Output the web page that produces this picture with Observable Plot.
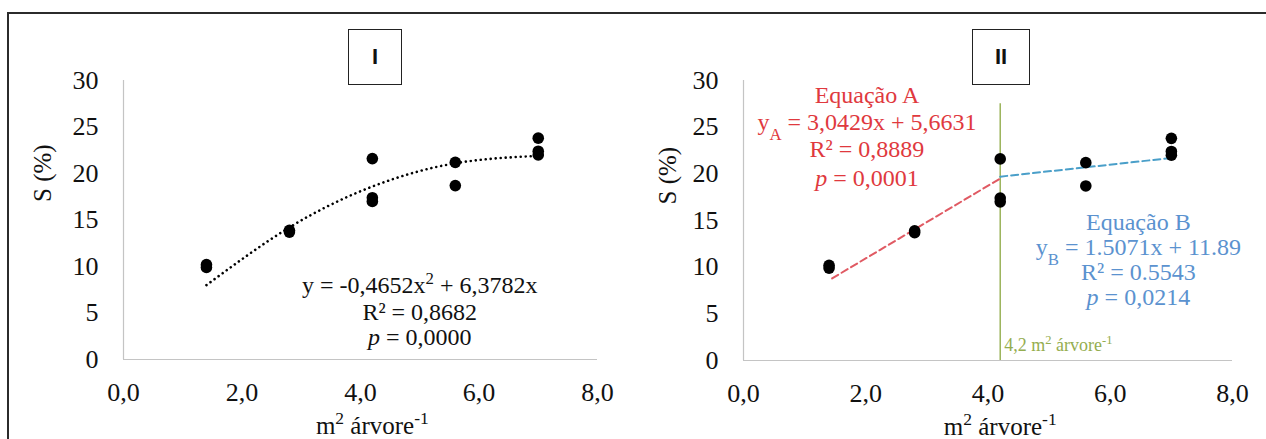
<!DOCTYPE html>
<html><head><meta charset="utf-8">
<script src="https://cdn.jsdelivr.net/npm/d3@7"></script>
<script src="https://cdn.jsdelivr.net/npm/@observablehq/plot@0.6"></script>
<style>
html,body{margin:0;padding:0;background:#fff}
#wrap{position:relative;width:1266px;height:439px;overflow:hidden;background:#fff}
#frame{position:absolute;left:7px;top:12px;width:1300px;height:500px;border-top:2.5px solid #2b2b2b;border-left:2.5px solid #2b2b2b}
.panel{position:absolute;top:0}
.box{position:absolute;border:1.5px solid #222;font-family:"Liberation Sans",Arial,sans-serif;font-weight:bold;font-size:22px;color:#111;display:flex;align-items:center;justify-content:center;box-sizing:border-box;background:#fff}
</style></head><body>
<div id="wrap"><div id="frame"></div></div>
<script>
// ---- data ----
const spacing  = [1.4, 1.4, 2.8, 2.8, 4.2, 4.2, 4.2, 5.6, 5.6, 7.0, 7.0, 7.0];   // m² árvore⁻¹
const sPercent = [9.9, 10.2, 13.7, 13.9, 21.6, 17.0, 17.4, 21.2, 18.7, 23.8, 22.0, 22.4]; // S (%)
const trendX = [1.4, 2.8, 4.2, 5.6, 7.0];          // quadratic trend (panel I)
const trendY = [8.0, 14.2, 18.6, 21.1, 21.9];
const segAx = [1.45, 4.2], segAy = [8.8, 19.5];     // Equação A segment
const segBx = [4.2, 7.0],  segBy = [19.7, 21.7];    // Equação B segment
const breakX = [4.2], breakTop = 27.5;
const xTicks = [0, 2, 4, 6, 8];
const yTicks = [0, 5, 10, 15, 20, 25, 30];
const panelTitles = ["I", "II"];
const xTitle = "m^{2} árvore^{-1}";
const yTitle = "S (%)";
const eqI = ["y = -0,4652x^{2} + 6,3782x", "R² = 0,8682", "*p* = 0,0000"];
const eqA = ["Equação A", "y_{A} = 3,0429x + 5,6631", "R² = 0,8889", "*p* = 0,0001"];
const eqB = ["Equação B", "y_{B} = 1.5071x + 11.89", "R² = 0.5543", "*p* = 0,0214"];
const breakLabel = ["4,2 m^{2} árvore^{-1}"];

// ---- layout / styles ----
const SERIF = "Liberation Serif";
const SERIF_CSS = "'Liberation Serif', 'Times New Roman', serif";
const fmt = d => d.toFixed(1).replace(".", ",");
const pts = spacing.map((x, i) => ({x, y: sPercent[i]}));
const trend = trendX.map((x, i) => ({x, y: trendY[i]}));
const segA = segAx.map((x, i) => ({x, y: segAy[i]}));
const segB = segBx.map((x, i) => ({x, y: segBy[i]}));
const eqIPos = {x: 5.0, y: [8.0, 5.1, 2.4]};
const eqAPos = {x: 2.02, y: [28.4, 25.5, 22.6, 19.5]};
const eqBPos = {x: 6.46, y: [14.8, 12.1, 9.4, 6.8]};

function rich(svg) {
  const NS = "http://www.w3.org/2000/svg";
  svg.querySelectorAll("text").forEach(el => {
    el.style.fontFamily = SERIF_CSS;
    el.style.fontVariant = "normal";
    const s = el.textContent;
    if (!/[\^_*]/.test(s) || el.children.length) return;
    el.textContent = "";
    const re = /\^\{([^}]*)\}|_\{([^}]*)\}|\*([^*]*)\*|([^\^_*]+)/g;
    let m;
    while ((m = re.exec(s))) {
      const t = document.createElementNS(NS, "tspan");
      if (m[1] !== undefined) { t.textContent = m[1]; t.setAttribute("baseline-shift", "super"); t.setAttribute("font-size", "70%"); }
      else if (m[2] !== undefined) { t.textContent = m[2]; t.setAttribute("baseline-shift", "sub"); t.setAttribute("font-size", "70%"); }
      else if (m[3] !== undefined) { t.textContent = m[3]; t.setAttribute("font-style", "italic"); }
      else t.textContent = m[4];
      el.appendChild(t);
    }
  });
}

function common(yDx, yDy) {
  return [
    Plot.ruleY([0], {x1: 0, x2: 8, stroke: "#c4c4c4", strokeWidth: 1.2}),
    Plot.ruleX([0], {y1: 0, y2: 30, stroke: "#c4c4c4", strokeWidth: 1.2}),
    Plot.axisX(xTicks, {tickSize: 0, tickPadding: 23, tickFormat: fmt, label: null, fontSize: 26, fontFamily: SERIF, fill: "#111"}),
    Plot.axisY(yTicks, {tickSize: 0, tickPadding: 25, label: null, fontSize: 26, fontFamily: SERIF, fill: "#111"}),
    Plot.text([xTitle], {x: 4.2, frameAnchor: "bottom", dy: 66, fontSize: 25, fontFamily: SERIF, lineAnchor: "middle", fill: "#111"}),
    Plot.text([yTitle], {frameAnchor: "left", rotate: -90, dx: yDx, dy: yDy, fontSize: 25, fontFamily: SERIF, fill: "#111"})
  ];
}

function make(left, width, ml, mr, mb, marks) {
  const p = Plot.plot({
    width, height: 439, marginLeft: ml, marginRight: mr, marginTop: 80, marginBottom: mb,
    style: {fontFamily: SERIF_CSS, fontSize: "24px", color: "#111", background: "transparent", overflow: "visible"},
    x: {domain: [0, 8], axis: null},
    y: {domain: [0, 30], axis: null},
    marks
  });
  rich(p);
  p.classList.add("panel");
  p.style.left = left + "px";
  document.getElementById("wrap").appendChild(p);
}

// Panel I
make(0, 640, 123, 43, 80, [
  ...common(-81, -18),
  Plot.line(trend, {x: "x", y: "y", curve: "natural", stroke: "#000", strokeWidth: 2.6, strokeDasharray: "0.01 5", strokeLinecap: "round"}),
  Plot.dot(pts, {x: "x", y: "y", r: 5.8, fill: "#000"}),
  Plot.text(eqI, {x: () => eqIPos.x, y: (d, i) => eqIPos.y[i], fontSize: 24, fontFamily: SERIF, fill: "#111"})
]);

// Panel II
make(640, 626, 103, 34, 79, [
  ...common(-76, -16),
  Plot.ruleX(breakX, {y1: 0, y2: breakTop, stroke: "#9bb35a", strokeWidth: 1.5}),
  Plot.text(breakLabel, {x: breakX[0], y: 1.6, dx: 4, textAnchor: "start", fontSize: 18, fontFamily: SERIF, fill: "#94ad4f"}),
  Plot.line(segA, {x: "x", y: "y", stroke: "#e05a63", strokeWidth: 2, strokeDasharray: "7 4"}),
  Plot.line(segB, {x: "x", y: "y", stroke: "#4a9fc9", strokeWidth: 2, strokeDasharray: "7 4"}),
  Plot.dot(pts, {x: "x", y: "y", r: 5.8, fill: "#000"}),
  Plot.text(eqA, {x: () => eqAPos.x, y: (d, i) => eqAPos.y[i], fontSize: 24, fontFamily: SERIF, fill: "#e0393e"}),
  Plot.text(eqB, {x: () => eqBPos.x, y: (d, i) => eqBPos.y[i], fontSize: 24, fontFamily: SERIF, fill: "#5b92cf"})
]);

// Panel title boxes
[[348, 54, panelTitles[0]], [972, 58, panelTitles[1]]].forEach(([l, w, t]) => {
  const b = document.createElement("div");
  b.className = "box";
  b.style.left = l + "px"; b.style.top = "29px"; b.style.width = w + "px"; b.style.height = "56px";
  b.textContent = t;
  document.getElementById("wrap").appendChild(b);
});
</script>
</body></html>
